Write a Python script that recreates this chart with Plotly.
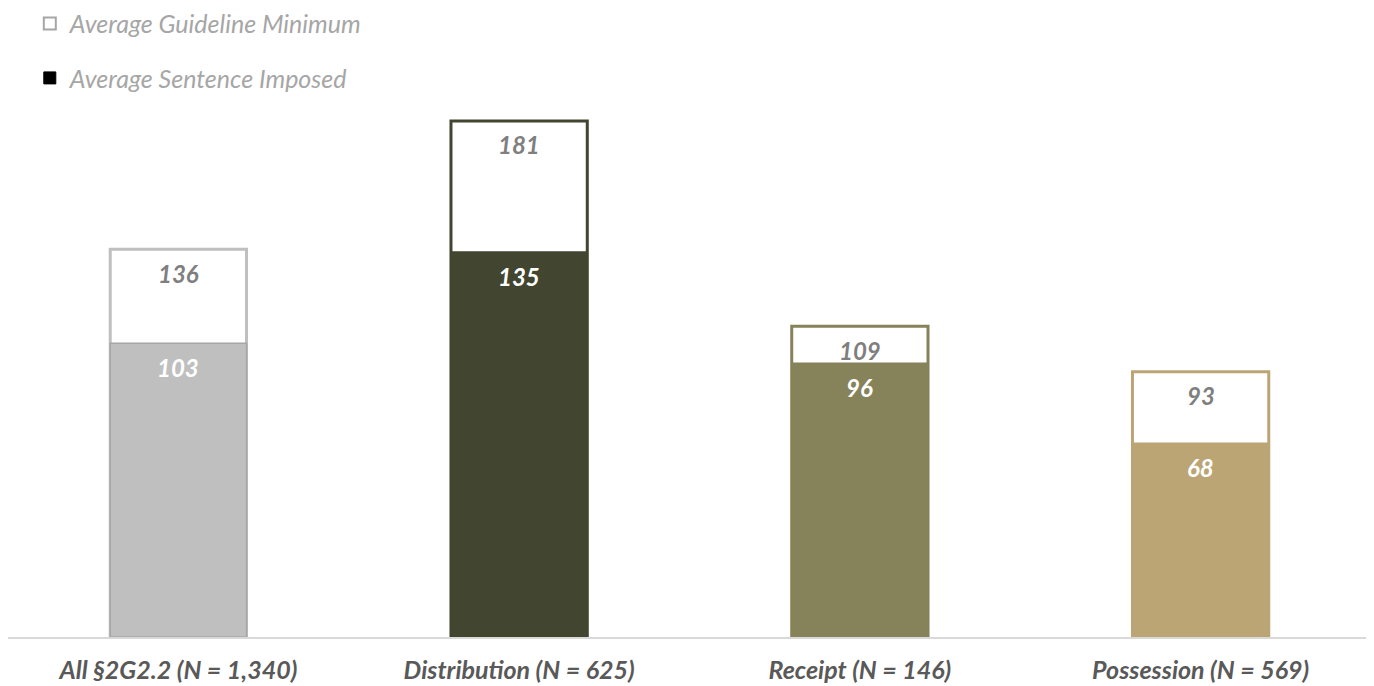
import plotly.graph_objects as go

categories = ["All §2G2.2 (N = 1,340)", "Distribution (N = 625)", "Receipt (N = 146)", "Possession (N = 569)"]
guideline_min = [136, 181, 109, 93]
sentence_imposed = [103, 135, 96, 68]
bar_colors = ["#bfbfbf", "#424530", "#86825a", "#bba574"]
sentence_line_colors = ["#a6a6a6", "#424530", "#86825a", "#bba574"]

FONT = "Lato, 'Open Sans', sans-serif"
BW = 0.4

fig = go.Figure()

# Guideline minimum: white bars with coloured outline
fig.add_trace(go.Bar(
    x=categories, y=guideline_min, width=BW, showlegend=False,
    marker=dict(color="white", line=dict(color=bar_colors, width=3)),
    hoverinfo="skip",
))
# Sentence imposed: filled bars
fig.add_trace(go.Bar(
    x=categories, y=sentence_imposed, width=BW, showlegend=False,
    marker=dict(color=bar_colors, line=dict(color=sentence_line_colors, width=1.5)),
    hoverinfo="skip",
))

# Legend-only traces
fig.add_trace(go.Bar(x=[None], y=[None], name="Average Guideline Minimum", legendgroup="a",
                     marker=dict(color="white", line=dict(color="#a6a6a6", width=2))))
fig.add_trace(go.Bar(x=[None], y=[None], name="Average Sentence Imposed", legendgroup="b",
                     marker=dict(color="black", line=dict(color="black", width=1))))

annotations = []
for c, g, s in zip(categories, guideline_min, sentence_imposed):
    annotations.append(dict(x=c, y=g, xref="x", yref="y", text=f"<b><i>{g}</i></b>",
                            showarrow=False, yanchor="middle", yshift=-24,
                            font=dict(family=FONT, size=24, color="#7f7f7f")))
    annotations.append(dict(x=c, y=s, xref="x", yref="y", text=f"<b><i>{s}</i></b>",
                            showarrow=False, yanchor="middle", yshift=-24,
                            font=dict(family=FONT, size=24, color="white")))

fig.update_layout(
    width=1366, height=678,
    barmode="overlay",
    plot_bgcolor="white", paper_bgcolor="white",
    margin=dict(l=0, r=3, t=92, b=49, autoexpand=False),
    font=dict(family=FONT),
    showlegend=True,
    legend=dict(
        x=0.016, xanchor="left", y=1.185, yanchor="top",
        orientation="v", traceorder="grouped", tracegroupgap=19,
        font=dict(family=FONT, size=25, color="#a6a6a6", style="italic"),
        itemwidth=30, bgcolor="rgba(0,0,0,0)",
    ),
    annotations=annotations,
    xaxis=dict(
        categoryorder="array", categoryarray=categories,
        showline=True, linecolor="#d9d9d9", linewidth=1.5,
        ticks="", showgrid=False, zeroline=False,
        tickfont=dict(family=FONT, size=25, color="#595959", weight="bold", style="italic"),
        ticklabelstandoff=10,
    ),
    yaxis=dict(range=[0, 537 / 2.851], visible=False, showgrid=False, zeroline=False),
)

fig.write_html("out.html")
